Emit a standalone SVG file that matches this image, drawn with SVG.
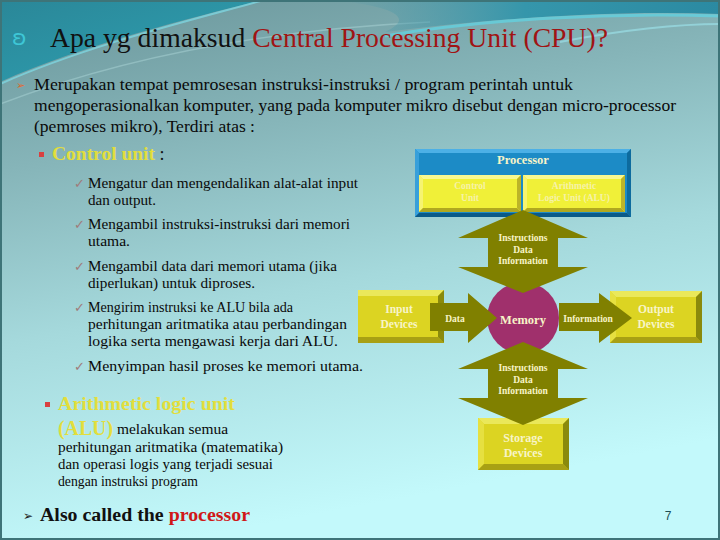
<svg xmlns="http://www.w3.org/2000/svg" width="720" height="540" viewBox="0 0 720 540">
<defs>
<linearGradient id="bg" x1="0" y1="0" x2="0.25" y2="1">
<stop offset="0" stop-color="#6a959a"/>
<stop offset="0.3" stop-color="#86b5b9"/>
<stop offset="0.6" stop-color="#a5d9dc"/>
<stop offset="1" stop-color="#c3f9fb"/>
</linearGradient>
<linearGradient id="tl" x1="0" y1="0" x2="1" y2="1">
<stop offset="0" stop-color="#2a8798"/>
<stop offset="1" stop-color="#2fa2b4"/>
</linearGradient>
<linearGradient id="tr" x1="0" y1="0" x2="1" y2="0">
<stop offset="0" stop-color="#4d97a6" stop-opacity="0"/>
<stop offset="0.5" stop-color="#3596ab"/>
<stop offset="1" stop-color="#2b8aa2"/>
</linearGradient>
<style>
.body{font-family:"Liberation Serif","Times New Roman",serif;font-size:15px;fill:#0a0a0a}
.para{font-family:"Liberation Serif","Times New Roman",serif;font-size:17px;fill:#0a0a0a}
.title{font-family:"Liberation Serif","Times New Roman",serif;font-size:27px;fill:#111}
.chk{font-family:"DejaVu Sans",sans-serif;font-size:13px;fill:#a07a7a}
.yel{fill:#e2de3c;font-weight:bold}
.dlab{font-family:"Liberation Serif","Times New Roman",serif;font-weight:bold;fill:#f8f4c8;text-anchor:middle}
.faint{fill:#f6f2a8}
.arrow{fill:#808000}
.pface{fill:#1c8bc6}.ptop{fill:#4cb0e6}.pleft{fill:#38a0da}.pbot{fill:#0a5a88}.pright{fill:#0d6b9e}
.yface{fill:#f0f038}.ytop{fill:#f8f890}.yleft{fill:#f6f470}.ybot{fill:#b0a820}.yright{fill:#bcb428}
.dface{fill:#dcd422}.dtop{fill:#eae85a}.dleft{fill:#e6e040}.dbot{fill:#a8a014}.dright{fill:#8a8a0c}
</style>
</defs>

<!-- background -->
<rect x="0" y="0" width="720" height="540" fill="url(#bg)"/>
<path d="M0,0 H262 C200,16 90,42 0,82 Z" fill="url(#tl)"/>
<path d="M0,84 C90,44 200,18 264,0" fill="none" stroke="#7fdde8" stroke-width="2" opacity="0.7"/>
<path d="M0,104 C120,58 260,30 430,22" fill="none" stroke="#aad4d6" stroke-width="1.5" opacity="0.5"/>
<path d="M330,0 H720 V14 C600,10 480,20 385,32 C420,16 385,5 330,0 Z" fill="url(#tr)"/>
<path d="M385,36 C480,20 600,12 720,16" fill="none" stroke="#5fd6e6" stroke-width="3" opacity="0.7"/>
<path d="M560,42 C620,30 680,24 720,24" fill="none" stroke="#9ee6ee" stroke-width="2" opacity="0.6"/>
<rect x="1" y="1" width="718" height="538" fill="none" stroke="#3e7478" stroke-width="2"/>

<!-- title -->
<text x="12" y="45" font-family="DejaVu Sans, sans-serif" font-size="22" fill="#3ec6d6">ʚ</text>
<text class="title" x="50" y="47" textLength="558" lengthAdjust="spacingAndGlyphs">Apa yg dimaksud <tspan fill="#a01414">Central Processing Unit (CPU)?</tspan></text>

<!-- paragraph -->
<text x="16" y="89" font-family="DejaVu Sans, sans-serif" font-size="11" fill="#e06a30">➢</text>
<text class="para" x="34" y="90" textLength="539" lengthAdjust="spacingAndGlyphs">Merupakan tempat pemrosesan instruksi-instruksi / program perintah untuk</text>
<text class="para" x="34" y="111" textLength="642" lengthAdjust="spacingAndGlyphs">mengoperasionalkan komputer, yang pada komputer mikro disebut dengan micro-processor</text>
<text class="para" x="34" y="132" textLength="221" lengthAdjust="spacingAndGlyphs">(pemroses mikro), Terdiri atas :</text>

<!-- control unit list -->
<rect x="39" y="152" width="5" height="5" fill="#d84040"/>
<text x="52" y="160" font-family="Liberation Serif, Times New Roman, serif" font-size="18" fill="#111"><tspan class="yel" textLength="103" lengthAdjust="spacingAndGlyphs">Control unit</tspan> :</text>

<text class="chk" x="74" y="188">✓</text>
<text class="body" x="88" y="188" textLength="270" lengthAdjust="spacingAndGlyphs">Mengatur dan mengendalikan alat-alat input</text>
<text class="body" x="88" y="205" textLength="68" lengthAdjust="spacingAndGlyphs">dan output.</text>

<text class="chk" x="74" y="229">✓</text>
<text class="body" x="88" y="229" textLength="262" lengthAdjust="spacingAndGlyphs">Mengambil instruksi-instruksi dari memori</text>
<text class="body" x="88" y="246" textLength="42" lengthAdjust="spacingAndGlyphs">utama.</text>

<text class="chk" x="74" y="271">✓</text>
<text class="body" x="88" y="271" textLength="249" lengthAdjust="spacingAndGlyphs">Mengambil data dari memori utama (jika</text>
<text class="body" x="88" y="288" textLength="167" lengthAdjust="spacingAndGlyphs">diperlukan) untuk diproses.</text>

<text class="chk" x="74" y="312">✓</text>
<text class="body" x="88" y="312" textLength="205" lengthAdjust="spacingAndGlyphs">Mengirim instruksi ke ALU bila ada</text>
<text class="body" x="88" y="329" textLength="259" lengthAdjust="spacingAndGlyphs">perhitungan aritmatika atau perbandingan</text>
<text class="body" x="88" y="346" textLength="250" lengthAdjust="spacingAndGlyphs">logika serta mengawasi kerja dari ALU.</text>

<text class="chk" x="74" y="371">✓</text>
<text class="body" x="88" y="371" textLength="275" lengthAdjust="spacingAndGlyphs">Menyimpan hasil proses ke memori utama.</text>

<!-- ALU section -->
<rect x="45" y="402" width="5" height="5" fill="#d84040"/>
<text x="58" y="410" font-family="Liberation Serif, Times New Roman, serif" font-size="18"><tspan class="yel" textLength="177" lengthAdjust="spacingAndGlyphs">Arithmetic logic unit</tspan></text>
<text x="58" y="435" font-family="Liberation Serif, Times New Roman, serif" font-size="21"><tspan class="yel" font-weight="normal" textLength="55" lengthAdjust="spacingAndGlyphs">(ALU)</tspan></text>
<text class="body" x="117" y="434" font-size="13" textLength="111" lengthAdjust="spacingAndGlyphs">melakukan semua</text>
<text class="body" x="58" y="452" font-size="13" textLength="225" lengthAdjust="spacingAndGlyphs">perhitungan aritmatika (matematika)</text>
<text class="body" x="58" y="469" font-size="13" textLength="215" lengthAdjust="spacingAndGlyphs">dan operasi logis yang terjadi sesuai</text>
<text class="body" x="58" y="486" font-size="13" textLength="140" lengthAdjust="spacingAndGlyphs">dengan instruksi program</text>

<!-- also called -->
<text x="23" y="520" font-family="DejaVu Sans, sans-serif" font-size="12" fill="#202020">➢</text>
<text x="40" y="521" font-family="Liberation Serif, Times New Roman, serif" font-size="18" font-weight="bold" fill="#111" textLength="210" lengthAdjust="spacingAndGlyphs">Also called the <tspan fill="#d01818">processor</tspan></text>

<text x="668" y="520" font-family="Liberation Sans, Arial, sans-serif" font-size="12" fill="#1e4e54" text-anchor="middle">7</text>

<!-- NODES -->
<g id="processor">
<rect class="pface" x="415" y="149" width="216" height="68"/>
<polygon class="ptop" points="415,149 631,149 627,153 419,153"/>
<polygon class="pleft" points="415,149 419,153 419,213 415,217"/>
<polygon class="pbot" points="415,217 419,213 627,213 631,217"/>
<polygon class="pright" points="631,149 631,217 627,213 627,153"/>
<text class="dlab" x="523" y="164" font-size="12.5">Processor</text>
</g>
<g id="control-unit">
<rect class="yface" x="419" y="175" width="102" height="37"/>
<polygon class="ytop" points="419,175 521,175 517,179 423,179"/>
<polygon class="yleft" points="419,175 423,179 423,208 419,212"/>
<polygon class="ybot" points="419,212 423,208 517,208 521,212"/>
<polygon class="yright" points="521,175 521,212 517,208 517,179"/>
<text class="dlab faint" x="470" y="189" font-size="9.5">Control</text>
<text class="dlab faint" x="470" y="201" font-size="9.5">Unit</text>
</g>
<g id="alu">
<rect class="yface" x="523" y="175" width="102" height="37"/>
<polygon class="ytop" points="523,175 625,175 621,179 527,179"/>
<polygon class="yleft" points="523,175 527,179 527,208 523,212"/>
<polygon class="ybot" points="523,212 527,208 621,208 625,212"/>
<polygon class="yright" points="625,175 625,212 621,208 621,179"/>
<text class="dlab faint" x="574" y="189" font-size="9.5">Arithmetic</text>
<text class="dlab faint" x="574" y="201" font-size="9.5">Logic Unit (ALU)</text>
</g>
<g id="input-devices">
<rect class="dface" x="358" y="290" width="86" height="53"/>
<polygon class="dtop" points="358,290 444,290 438,296 358,296"/>
<polygon class="dbot" points="358,343 358,337 438,337 444,343"/>
<polygon class="dright" points="444,290 444,343 438,337 438,296"/>
<text class="dlab" x="399" y="313" font-size="11.5">Input</text>
<text class="dlab" x="399" y="328" font-size="11.5">Devices</text>
</g>
<g id="output-devices">
<rect class="dface" x="610" y="291" width="92" height="52"/>
<polygon class="dtop" points="610,291 702,291 696,297 616,297"/>
<polygon class="dleft" points="610,291 616,297 616,337 610,343"/>
<polygon class="dbot" points="610,343 616,337 696,337 702,343"/>
<polygon class="dright" points="702,291 702,343 696,337 696,297"/>
<text class="dlab" x="656" y="313" font-size="11.5">Output</text>
<text class="dlab" x="656" y="328" font-size="11.5">Devices</text>
</g>
<g id="storage-devices">
<rect class="dface" x="478" y="418" width="91" height="52"/>
<polygon class="dtop" points="478,418 569,418 563,424 484,424"/>
<polygon class="dleft" points="478,418 484,424 484,464 478,470"/>
<polygon class="dbot" points="478,470 484,464 563,464 569,470"/>
<polygon class="dright" points="569,418 569,470 563,464 563,424"/>
<text class="dlab" x="523" y="442" font-size="12">Storage</text>
<text class="dlab" x="523" y="457" font-size="12">Devices</text>
</g>
<g id="memory">
<ellipse cx="523" cy="318" rx="36" ry="36" fill="#a0306c"/>
<text class="dlab" x="523" y="324" font-size="12.5">Memory</text>
</g>

<!-- CONNECTORS -->
<g id="connectors">
<polygon class="arrow" points="523,210 588,238 558,238 558,267 588,267 523,293 458,267 488,267 488,238 458,238"/>
<polygon class="arrow" points="523,342 588,369 558,369 558,398 588,398 523,425 458,398 488,398 488,369 458,369"/>
<polygon class="arrow" points="430,303 468,303 468,293 497,318 468,343 468,331 430,331"/>
<polygon class="arrow" points="559,303 599,303 599,293 632,318 599,343 599,331 559,331"/>
<text class="dlab" x="523" y="241" font-size="9.5">Instructions</text>
<text class="dlab" x="523" y="253" font-size="9.5">Data</text>
<text class="dlab" x="523" y="264" font-size="9.5">Information</text>
<text class="dlab" x="523" y="371" font-size="9.5">Instructions</text>
<text class="dlab" x="523" y="383" font-size="9.5">Data</text>
<text class="dlab" x="523" y="394" font-size="9.5">Information</text>
<text class="dlab" x="455" y="322" font-size="9.5">Data</text>
<text class="dlab" x="588" y="322" font-size="9.5">Information</text>
</g>
</svg>
